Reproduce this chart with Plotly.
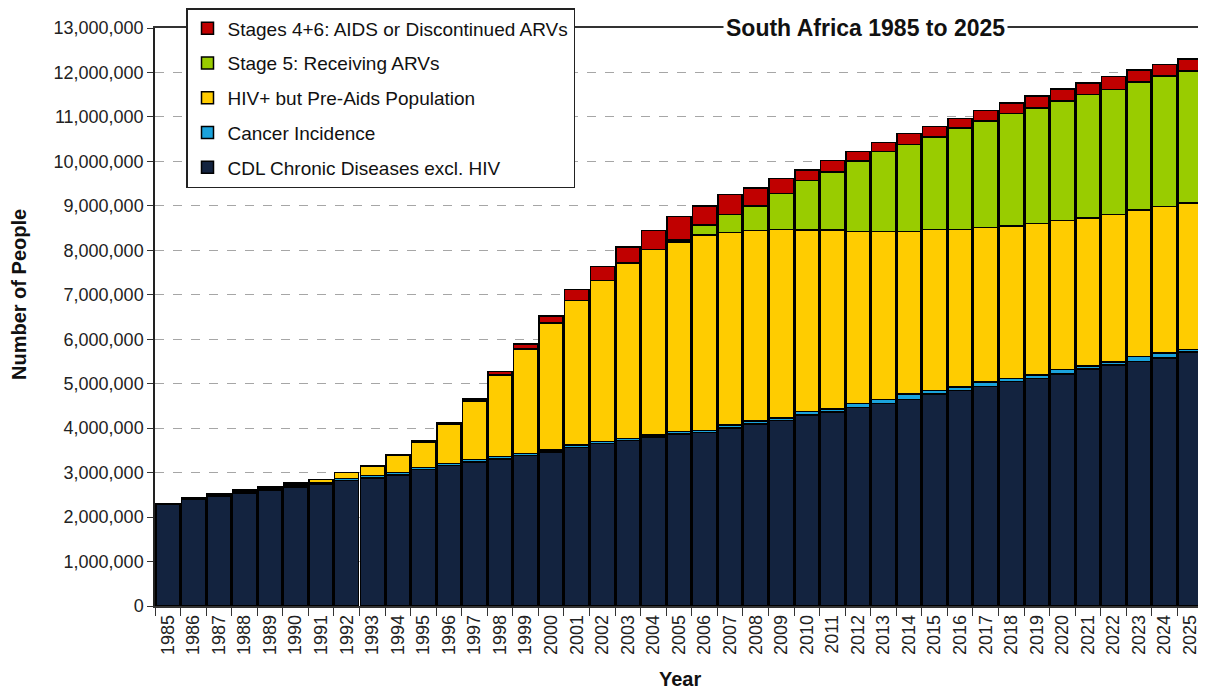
import plotly.graph_objects as go
import numpy as np

years = [str(y) for y in range(1985, 2026)]

# values in millions of people
cdl = [2.29, 2.39, 2.47, 2.54, 2.61, 2.68, 2.74, 2.82, 2.88, 2.95,
       3.07, 3.16, 3.24, 3.31, 3.38, 3.46, 3.57, 3.65, 3.72, 3.80,
       3.87, 3.90, 4.00, 4.09, 4.17, 4.30, 4.36, 4.47, 4.56, 4.65,
       4.77, 4.85, 4.94, 5.05, 5.12, 5.22, 5.33, 5.42, 5.50, 5.58, 5.71]
cancer = [0.02, 0.03, 0.03, 0.04, 0.04, 0.04, 0.04, 0.05, 0.05, 0.05,
          0.05, 0.05, 0.05, 0.05, 0.05, 0.05, 0.05, 0.05, 0.05, 0.05,
          0.05, 0.05, 0.07, 0.07, 0.06, 0.08, 0.07, 0.08, 0.08, 0.12,
          0.08, 0.08, 0.10, 0.07, 0.08, 0.10, 0.07, 0.07, 0.11, 0.11, 0.06]
hiv_pre = [0.00, 0.01, 0.02, 0.03, 0.04, 0.05, 0.07, 0.13, 0.22, 0.38,
           0.57, 0.87, 1.32, 1.84, 2.35, 2.85, 3.25, 3.62, 3.94, 4.17,
           4.27, 4.39, 4.33, 4.28, 4.24, 4.08, 4.03, 3.87, 3.78, 3.65,
           3.62, 3.54, 3.47, 3.43, 3.40, 3.35, 3.33, 3.32, 3.30, 3.29, 3.29]
arv = [0.00, 0.00, 0.00, 0.00, 0.00, 0.00, 0.00, 0.00, 0.00, 0.00,
       0.00, 0.00, 0.00, 0.00, 0.00, 0.00, 0.00, 0.00, 0.00, 0.00,
       0.04, 0.23, 0.41, 0.56, 0.81, 1.11, 1.30, 1.59, 1.80, 1.96,
       2.08, 2.28, 2.40, 2.53, 2.60, 2.69, 2.78, 2.81, 2.88, 2.94, 2.97]
aids = [0.00, 0.00, 0.00, 0.00, 0.00, 0.00, 0.00, 0.00, 0.01, 0.02,
        0.03, 0.04, 0.05, 0.07, 0.11, 0.16, 0.25, 0.32, 0.37, 0.42,
        0.53, 0.43, 0.44, 0.40, 0.33, 0.24, 0.26, 0.21, 0.20, 0.25,
        0.24, 0.22, 0.23, 0.23, 0.27, 0.27, 0.25, 0.29, 0.27, 0.26, 0.27]

series = [
    ("CDL Chronic Diseases excl. HIV", cdl, "#13233F"),
    ("Cancer Incidence", cancer, "#1BA3DC"),
    ("HIV+ but Pre-Aids Population", hiv_pre, "#FFCC00"),
    ("Stage 5: Receiving ARVs", arv, "#99CC00"),
    ("Stages 4+6: AIDS or Discontinued ARVs", aids, "#C00000"),
]

FONT = "Liberation Sans, Arial, sans-serif"

fig = go.Figure()
n = len(series)
for i, (name, vals, color) in enumerate(series):
    fig.add_trace(go.Bar(
        x=years, y=np.array(vals) * 1e6, name=name,
        legendgroup=f"g{i}", legendrank=n - i,
        marker=dict(color=color, line=dict(color="black", width=1.5)),
    ))

# the page body has an 8px margin, so the figure is laid out 8px smaller
OFF = 8
W, H = 1206 - OFF, 691 - OFF
L, R, T, B = 155 - OFF, 3, 28 - OFF, 85
pw, ph = W - L - R, H - T - B


def px(xr):
    return (xr - 155) / pw


def py(yr):
    return (606 - yr) / ph


fig.update_layout(
    width=W, height=H,
    barmode="stack", bargap=0.06,
    plot_bgcolor="white", paper_bgcolor="white",
    margin=dict(l=L, r=R, t=T, b=B, autoexpand=False),
    font=dict(family=FONT, size=18, color="#222"),
    legend=dict(
        x=px(186), y=py(8), xanchor="left", yanchor="top",
        bgcolor="white", bordercolor="#222", borderwidth=1.5,
        traceorder="grouped", tracegroupgap=7,
        font=dict(family=FONT, size=19, color="#111"),
    ),
    xaxis=dict(
        type="category", tickangle=-90, ticks="outside", tickson="boundaries",
        ticklen=8, tickcolor="#333", showline=True, linecolor="#333",
        linewidth=1.5, mirror=True, showgrid=False,
        tickfont=dict(family=FONT, size=18, color="#222"),
    ),
    yaxis=dict(
        range=[0, 13e6], dtick=1e6, tickformat=",d", ticks="outside",
        ticklen=6, tickcolor="#333", showline=True, linecolor="#222",
        linewidth=1.5, mirror=True, showgrid=True, gridcolor="#A6A6A6",
        griddash="dash", gridwidth=1, zeroline=False,
        tickfont=dict(family=FONT, size=18, color="#222"),
    ),
    annotations=[
        dict(text="<b>South Africa 1985 to 2025</b>", xref="paper", yref="paper",
             x=px(865), y=1, xanchor="center", yanchor="middle",
             showarrow=False, bgcolor="white", borderpad=2,
             font=dict(family=FONT, size=23, color="#111")),
        dict(text="<b>Number of People</b>", xref="paper", yref="paper",
             x=px(19), y=py(295), xanchor="center", yanchor="middle",
             textangle=-90, showarrow=False,
             font=dict(family=FONT, size=20, color="#111")),
        dict(text="<b>Year</b>", xref="paper", yref="paper",
             x=px(680), y=py(679), xanchor="center", yanchor="middle",
             showarrow=False,
             font=dict(family=FONT, size=20, color="#111")),
    ],
)

fig.write_html("out.html")
